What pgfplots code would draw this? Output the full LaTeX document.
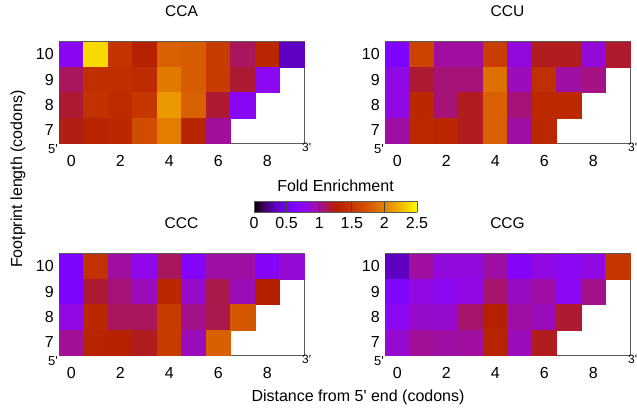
\documentclass[border=0pt]{standalone}
\usepackage{pgfplots}
\usepackage{pgfplotstable}
\usepackage{fontspec}
\setmainfont{Liberation Sans}
\pgfplotsset{compat=1.18}

% Fold enrichment per (distance from 5' end, footprint length)
\pgfplotstableread{
d L v
0 10 0.74
1 10 2.37
2 10 1.47
3 10 1.28
4 10 1.81
5 10 1.78
6 10 1.53
7 10 1.10
8 10 1.35
9 10 0.35
0 9 1.10
1 9 1.42
2 9 1.42
3 9 1.38
4 9 1.94
5 9 1.78
6 9 1.53
7 9 1.17
8 9 0.75
0 8 1.17
1 8 1.45
2 8 1.38
3 8 1.50
4 8 2.10
5 8 1.80
6 8 1.17
7 8 0.72
0 7 1.22
1 7 1.30
2 7 1.35
3 7 1.67
4 7 1.97
5 7 1.30
6 7 0.99
}\CCA

\pgfplotstableread{
d L v
0 10 0.62
1 10 1.60
2 10 0.98
3 10 0.98
4 10 1.55
5 10 0.82
6 10 1.20
7 10 1.20
8 10 0.84
9 10 1.18
0 9 0.80
1 9 1.17
2 9 1.05
3 9 1.05
4 9 1.90
5 9 0.92
6 9 1.42
7 9 0.97
8 9 1.03
0 8 0.80
1 8 1.35
2 8 1.05
3 8 1.20
4 8 1.80
5 8 1.05
6 8 1.36
7 8 1.36
0 7 0.97
1 7 1.36
2 7 1.32
3 7 1.20
4 7 1.80
5 7 0.97
6 7 1.34
}\CCU

\pgfplotstableread{
d L v
0 10 0.62
1 10 1.45
2 10 0.98
3 10 0.78
4 10 1.10
5 10 0.68
6 10 0.97
7 10 0.97
8 10 0.68
9 10 0.85
0 9 0.62
1 9 1.17
2 9 1.05
3 9 0.92
4 9 1.34
5 9 0.88
6 9 1.13
7 9 0.93
8 9 1.25
0 8 0.80
1 8 1.33
2 8 1.10
3 8 1.10
4 8 1.53
5 8 1.02
6 8 1.13
7 8 1.75
0 7 1.00
1 7 1.30
2 7 1.28
3 7 1.20
4 7 1.52
5 7 0.92
6 7 1.80
}\CCC

\pgfplotstableread{
d L v
0 10 0.35
1 10 0.98
2 10 0.82
3 10 0.82
4 10 0.97
5 10 0.68
6 10 0.80
7 10 0.75
8 10 0.80
9 10 1.48
0 9 0.65
1 9 0.80
2 9 0.75
3 9 0.80
4 9 1.07
5 9 0.90
6 9 0.97
7 9 0.75
8 9 1.02
0 8 0.75
1 8 0.88
2 8 0.87
3 8 1.07
4 8 1.25
5 8 0.97
6 8 0.92
7 8 1.17
0 7 0.87
1 7 1.00
2 7 0.97
3 7 0.98
4 7 1.30
5 7 0.92
6 7 1.20
}\CCG

% one heatmap cell: 1 x 1 data unit
\pgfdeclareplotmark{cell}{%
  \pgfpathrectangle{\pgfpoint{-12.25pt}{-12.65pt}}{\pgfpoint{24.5pt}{25.3pt}}%
  \pgfusepathqfillstroke}

\pgfplotsset{
  colormap={gnu}{
    rgb=(0,0,0) rgb=(0.224,0,0.309) rgb=(0.316,0.001,0.588)
    rgb=(0.387,0.003,0.809) rgb=(0.447,0.008,0.951) rgb=(0.5,0.016,1)
    rgb=(0.548,0.027,0.951) rgb=(0.592,0.043,0.809) rgb=(0.632,0.064,0.588)
    rgb=(0.671,0.091,0.309) rgb=(0.707,0.125,0) rgb=(0.742,0.166,0)
    rgb=(0.775,0.216,0) rgb=(0.806,0.275,0) rgb=(0.837,0.343,0)
    rgb=(0.866,0.422,0) rgb=(0.894,0.512,0) rgb=(0.922,0.614,0)
    rgb=(0.949,0.729,0) rgb=(0.975,0.857,0) rgb=(1,1,0)},
  heat/.style={
    anchor=south west,
    x=24.5pt, y=25.3pt,
    xmin=-0.5, xmax=9.5, ymin=6.5, ymax=10.5,
    xtick={0,2,4,6,8}, ytick={7,8,9,10},
    major tick length=0pt,
    axis on top, clip=false,
    axis line style={draw=black!65, line width=0.8pt},
    colormap name=gnu, point meta min=0, point meta max=2.5,
    /pgf/number format/assume math mode=true,
    tick label style={font=\fontsize{16}{19}\selectfont},
    xticklabel style={yshift=-8.5pt},
    yticklabel style={xshift=-1.7pt},
    title style={font=\fontsize{15.5}{18}\selectfont, yshift=16pt},
    after end axis/.code={
      \node[anchor=north east, inner sep=1pt, font=\fontsize{13}{15}\selectfont]
        at (rel axis cs:0,0) {5\textquotesingle};
      \node[anchor=north west, inner sep=0pt, xshift=-2pt,
        font=\fontsize{12}{14}\selectfont]
        at (rel axis cs:1,0) {3\textquotesingle};
    },
  },
  cells/.style={scatter, only marks, mark=cell, scatter src=explicit,
    scatter/use mapped color={draw=mapped color, fill=mapped color},
    mark options={line width=0.3pt}},
}

\begin{document}
\begin{tikzpicture}
\useasboundingbox (0,0) rectangle (637pt,409pt);

\begin{axis}[heat, at={(59pt,266pt)}, title={CCA}]
\addplot[cells] table[x=d, y=L, meta=v] {\CCA};
\end{axis}

\begin{axis}[heat, at={(385pt,266pt)}, title={CCU}]
\addplot[cells] table[x=d, y=L, meta=v] {\CCU};
\end{axis}

\begin{axis}[heat, at={(59pt,54pt)}, title={CCC}]
\addplot[cells] table[x=d, y=L, meta=v] {\CCC};
\end{axis}

\begin{axis}[heat, at={(385pt,54pt)}, title={CCG}]
\addplot[cells] table[x=d, y=L, meta=v] {\CCG};
\end{axis}

% colour scale
\begin{axis}[at={(254pt,197pt)}, anchor=south west,
  scale only axis, width=163pt, height=11pt,
  view={0}{90},
  xmin=0, xmax=2.5, ymin=0, ymax=1,
  xtick={0,0.5,1,1.5,2,2.5}, ytick=\empty, ztick=\empty,
  major tick length=0pt,
  xmajorgrids, grid style={black!75, line width=0.7pt},
  axis on top,
  axis line style={draw=black!65, line width=0.8pt},
  colormap name=gnu, point meta min=0, point meta max=2.5,
  /pgf/number format/assume math mode=true,
  xticklabel style={font=\fontsize{16}{19}\selectfont, yshift=-1.5pt},
  title={Fold Enrichment},
  title style={font=\fontsize{16}{19}\selectfont, yshift=-0.5pt},
]
\addplot3[surf, shader=interp, point meta=x, mesh/rows=2] coordinates {
(0,0,0) (0.125,0,0) (0.25,0,0) (0.375,0,0) (0.5,0,0) (0.625,0,0) (0.75,0,0)
(0.875,0,0) (1,0,0) (1.125,0,0) (1.25,0,0) (1.375,0,0) (1.5,0,0) (1.625,0,0)
(1.75,0,0) (1.875,0,0) (2,0,0) (2.125,0,0) (2.25,0,0) (2.375,0,0) (2.5,0,0)

(0,1,0) (0.125,1,0) (0.25,1,0) (0.375,1,0) (0.5,1,0) (0.625,1,0) (0.75,1,0)
(0.875,1,0) (1,1,0) (1.125,1,0) (1.25,1,0) (1.375,1,0) (1.5,1,0) (1.625,1,0)
(1.75,1,0) (1.875,1,0) (2,1,0) (2.125,1,0) (2.25,1,0) (2.375,1,0) (2.5,1,0)
};
\end{axis}

\node[rotate=90, font=\fontsize{16}{19}\selectfont] at (18pt,230pt)
  {Footprint length (codons)};
\node[font=\fontsize{16}{19}\selectfont] at (358pt,12pt)
  {Distance from 5\textquotesingle{} end (codons)};
\end{tikzpicture}
\end{document}
